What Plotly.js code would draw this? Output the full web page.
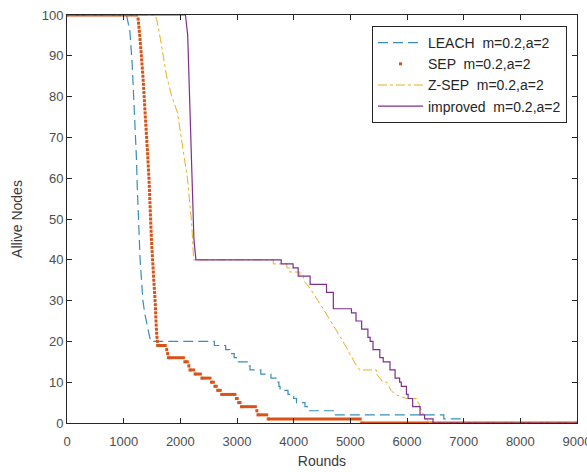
<!DOCTYPE html>
<html>
<head>
<meta charset="utf-8">
<script src="https://cdn.plot.ly/plotly-3.0.1.min.js"></script>
<style>html,body{margin:0;padding:0;background:#fff;}#chart{width:587px;height:472px;}</style>
</head>
<body>
<div id="chart"></div>
<script>
// ---- data (polyline vertices / step corners) ----
const seriesNames = ['LEACH  m=0.2,a=2', 'SEP  m=0.2,a=2', 'Z-SEP  m=0.2,a=2', 'improved  m=0.2,a=2'];

const leachX = [0, 1050, 1080, 1110, 1150, 1180, 1200, 1225, 1240, 1260, 1275, 1290, 1315, 1340, 1370, 1410, 1440, 1475,
  2600, 2600, 2800, 2800, 2870, 2870, 2950, 2950, 2990, 2990, 3180, 3180, 3230, 3230, 3420, 3420, 3600, 3600,
  3700, 3700, 3740, 3740, 3760, 3760, 3900, 3900, 4000, 4000, 4050, 4050, 4200, 4200, 4280, 4280, 4720, 4720,
  6650, 6650, 7000, 7000, 9000];
const leachY = [100, 100, 98, 96, 88, 80, 74, 65, 58, 50, 45, 40, 35, 30, 27, 24, 22, 20,
  20, 19, 19, 18, 18, 17, 17, 16, 16, 15, 15, 14, 14, 13, 13, 12, 12, 11,
  11, 10, 10, 9, 9, 8, 8, 7, 7, 6, 6, 5, 5, 4, 4, 3, 3, 2,
  2, 1, 1, 0, 0];

const sepX = [0, 1255, 1262, 1270, 1276, 1283, 1289, 1295, 1301, 1307, 1313, 1318, 1323, 1329, 1334, 1340,
  1344, 1349, 1353, 1358, 1362, 1366, 1370, 1374, 1378, 1382, 1387, 1391, 1396, 1400, 1405,
  1409, 1413, 1418, 1422, 1426, 1430, 1434, 1438, 1442, 1446, 1449, 1452, 1455, 1458, 1461,
  1464, 1467, 1469, 1472, 1475, 1478, 1481, 1484, 1487, 1490, 1494, 1498, 1502, 1506, 1510,
  1515, 1519, 1523, 1527, 1531, 1536, 1541, 1545, 1550, 1554, 1558, 1561, 1564, 1567, 1570,
  1574, 1578, 1582, 1588, 1594, 1600,
  1760, 1775, 1790, 2080, 2150, 2170, 2260, 2380, 2550, 2610, 2660, 2730, 2990, 3030, 3080, 3350, 3370, 3550, 5200, 9000];
const sepY = [100, 99, 98, 97, 96, 95, 94, 93, 92, 91, 90, 89, 88, 87, 86, 85,
  84, 83, 82, 81, 80, 79, 78, 77, 76, 75, 74, 73, 72, 71, 70,
  69, 68, 67, 66, 65, 64, 63, 62, 61, 60, 59, 58, 57, 56, 55,
  54, 53, 52, 51, 50, 49, 48, 47, 46, 45, 44, 43, 42, 41, 40,
  39, 38, 37, 36, 35, 34, 33, 32, 31, 30, 29, 28, 27, 26, 25,
  24, 23, 22, 21, 20, 19,
  18, 17, 16, 15, 14, 13, 12, 11, 10, 9, 8, 7, 6, 5, 4, 3, 2, 1, 0, 0];

const zsepX = [0, 1550, 1582, 1650, 1758, 1850, 1950, 2052, 2125, 2200, 2215, 2235,
  3640, 3640, 3880, 3880, 3930, 3930, 4110, 4110, 4170, 4170,
  4290, 4340, 4430, 4520, 4610, 4700, 4790, 4870, 4950, 5030, 5110, 5170,
  5460, 5460, 5520, 5580, 5640, 5720, 5790, 5990, 6170, 6230, 6290, 6345, 6400, 9000];
const zsepY = [100, 100, 99, 94, 85, 80, 76, 67, 60, 49, 45, 40,
  40, 39, 39, 38, 38, 37, 37, 36, 36, 35,
  33, 32, 30, 28, 26, 24, 22, 20, 18, 16, 14, 13,
  13, 12, 11, 10, 10, 8, 7, 6, 6, 4, 2, 1, 0, 0];

const impX = [0, 2090, 2130, 2170, 2200, 2240, 2275,
  3780, 3780, 3990, 3990, 4080, 4080, 4290, 4290, 4580, 4580, 4700, 4700, 5020, 5020, 5100, 5100,
  5200, 5200, 5310, 5310, 5350, 5350, 5400, 5400, 5520, 5520, 5580, 5580, 5700, 5700, 5790, 5790,
  5870, 5870, 5900, 5900, 5990, 5990, 6020, 6020, 6100, 6100, 6230, 6230, 6310, 6310, 6460, 6460, 9000];
const impY = [100, 100, 95, 75, 60, 45, 40,
  40, 39, 39, 38, 38, 36, 36, 34, 34, 32, 32, 28, 28, 27, 27, 25,
  25, 23, 23, 21, 21, 20, 20, 18, 18, 16, 16, 15, 15, 13, 13, 11,
  11, 10, 10, 9, 9, 7, 7, 6, 6, 4, 4, 2, 2, 1, 1, 0, 0];

const xTicks = [0, 1000, 2000, 3000, 4000, 5000, 6000, 7000, 8000, 9000];
const yTicks = [0, 10, 20, 30, 40, 50, 60, 70, 80, 90, 100];

// ---- SEP: horizontal runs between successive SEP points (dense-dot look) ----
const sepSegX = [], sepSegY = [];
for (let i = 0; i < sepX.length - 1; i++) {
  sepSegX.push(sepX[i], sepX[i + 1], null);
  sepSegY.push(sepY[i], sepY[i], null);
}

const cLeach = '#3a8db8', cSep = '#d95319', cZsep = '#e8b020', cImp = '#7e2f8e';

const traces = [
  {x: leachX, y: leachY, name: seriesNames[0], type: 'scatter', mode: 'lines',
   line: {color: cLeach, width: 1.2, dash: '10px,5px'}},
  {x: sepSegX, y: sepSegY, type: 'scatter', mode: 'lines', showlegend: false, hoverinfo: 'skip',
   line: {color: cSep, width: 3}},
  {x: sepX, y: sepY, name: seriesNames[1], type: 'scatter', mode: 'markers',
   marker: {color: cSep, size: 3, symbol: 'square', line: {width: 0}}},
  {x: zsepX, y: zsepY, name: seriesNames[2], type: 'scatter', mode: 'lines',
   line: {color: cZsep, width: 1, dash: 'dashdot'}},
  {x: impX, y: impY, name: seriesNames[3], type: 'scatter', mode: 'lines',
   line: {color: cImp, width: 1.2}}
];

const axisCommon = {
  showgrid: false, zeroline: false, showline: true, linecolor: '#262626', linewidth: 1,
  mirror: 'ticks', ticks: 'inside', ticklen: 5, tickwidth: 1, tickcolor: '#262626',
  ticklabeloverflow: 'allow',
  tickfont: {size: 13, color: '#4d4d4d', family: 'Liberation Sans, Arial, sans-serif'}
};

const layout = {
  width: 587, height: 472,
  margin: {l: 67, r: 10, t: 15, b: 49},
  paper_bgcolor: '#ffffff', plot_bgcolor: '#ffffff',
  font: {family: 'Liberation Sans, Arial, sans-serif', color: '#4d4d4d'},
  xaxis: Object.assign({}, axisCommon, {
    range: [0, 9000], tickvals: xTicks, ticktext: xTicks.map(String), ticklabelstandoff: 6,
    title: {text: 'Rounds', font: {size: 14, color: '#3a3a3a'}, standoff: 8}
  }),
  yaxis: Object.assign({}, axisCommon, {
    range: [0, 100], tickvals: yTicks, ticktext: yTicks.map(String),
    title: {text: 'Allive Nodes', font: {size: 14, color: '#3a3a3a'}, standoff: 15}
  }),
  legend: {
    x: 0.598, xanchor: 'left', y: 0.973, yanchor: 'top',
    bgcolor: '#ffffff', bordercolor: '#262626', borderwidth: 1,
    font: {size: 14, color: '#262626'}, itemwidth: 45, tracegroupgap: 0
  },
  showlegend: true
};

Plotly.newPlot('chart', traces, layout, {displayModeBar: false, staticPlot: true});
</script>
</body>
</html>
